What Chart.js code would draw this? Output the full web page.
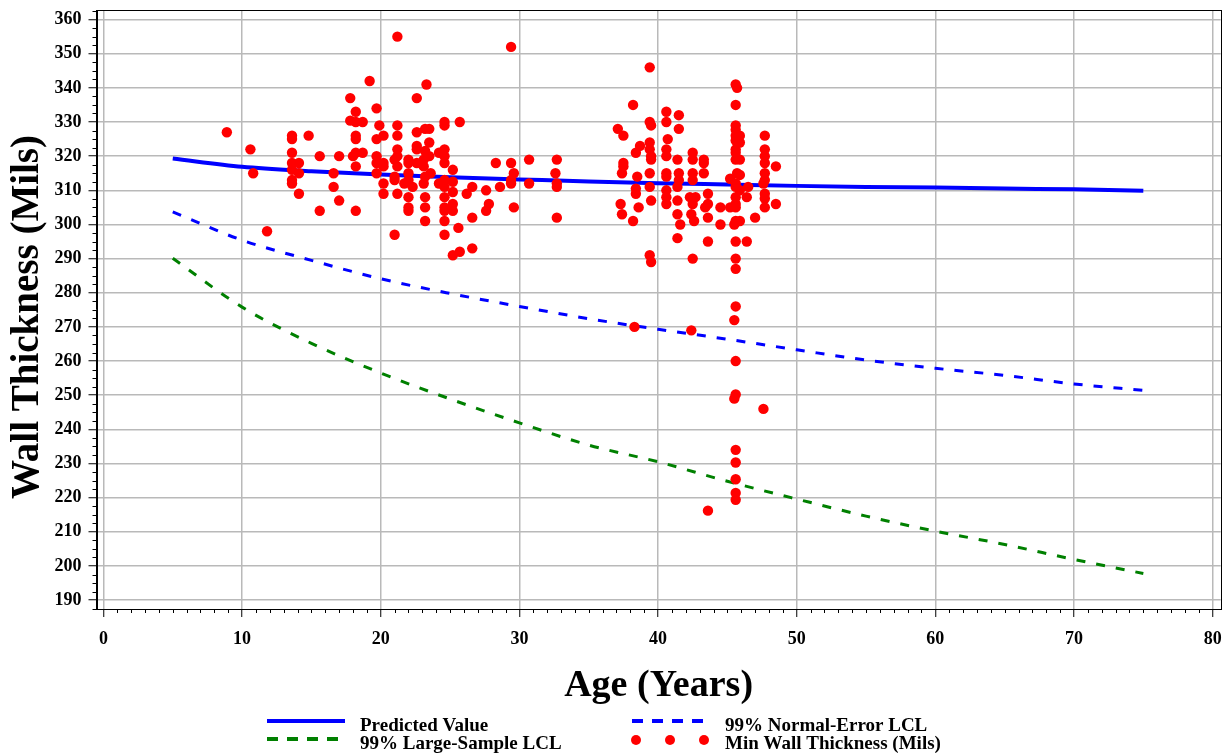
<!DOCTYPE html>
<html>
<head>
<meta charset="utf-8">
<title>Wall Thickness vs Age</title>
<script src="https://cdn.jsdelivr.net/npm/chart.js"></script>
<style>
    html, body { margin: 0; padding: 0; background: #fff; }
    canvas { display: block; }
</style>
</head>
<body>
<canvas id="wallChart" width="1231" height="755"></canvas>
<script>
const xTicks = [0, 10, 20, 30, 40, 50, 60, 70, 80];
const yTicks = [190, 200, 210, 220, 230, 240, 250, 260, 270, 280, 290, 300, 310, 320, 330, 340, 350, 360];

const xTitle = 'Age (Years)';
const yTitle = 'Wall Thickness (Mils)';
const seriesNames = ['Predicted Value', '99% Normal-Error LCL', '99% Large-Sample LCL', 'Min Wall Thickness (Mils)'];

// fitted curves, read at every 5 years
const fitAge    = [5, 10, 15, 20, 25, 30, 35, 40, 45, 50, 55, 60, 65, 70, 75];
const predicted = [319.3, 316.9, 315.6, 314.6, 313.8, 313.2, 312.6, 312.1, 311.7, 311.3, 311.0, 310.8, 310.5, 310.3, 309.9];
const normalLcl = [303.7, 295.4, 289.5, 284.1, 279.8, 276.0, 272.4, 269.3, 266.4, 263.3, 260.3, 257.9, 255.8, 253.3, 251.4];
const largeLcl  = [290.1, 275.8, 265.2, 256.5, 248.9, 241.9, 235.4, 230.5, 224.8, 219.6, 214.6, 210.2, 206.3, 201.9, 197.8];

// measured points
const scatterAge = [
    21.2, 8.9, 10.6, 10.8, 11.8, 13.6, 13.6, 13.6, 13.6, 14.1,
    13.6, 14.1, 13.6, 13.6, 14.1, 14.8, 15.6, 15.6, 16.6, 16.6,
    17.0, 17.0, 18.2, 19.2, 17.8, 18.2, 17.8, 18.2, 18.7, 18.2,
    18.2, 18.2, 18.7, 18.0, 18.2, 19.7, 19.9, 20.2, 19.7, 19.7,
    19.7, 20.2, 20.2, 19.7, 20.2, 20.2, 21.2, 21.2, 21.2, 21.2,
    21.0, 21.0, 21.0, 21.2, 21.2, 21.0,
    29.4, 23.3, 22.6, 24.6, 24.6, 25.7, 22.6, 23.2, 23.5, 23.5,
    22.6, 22.6, 23.2, 24.6, 24.2, 24.6, 22.0, 22.0, 22.6, 23.1,
    23.5, 23.1, 23.6, 23.2, 24.6, 25.2, 22.0, 22.0, 21.7, 22.3,
    23.1, 24.2, 24.6, 24.6, 25.2, 25.2, 22.0, 23.2, 23.2, 22.0,
    22.0, 24.6, 24.6, 25.2, 25.2, 24.6, 23.2, 24.6, 24.6, 25.6,
    25.2, 25.7, 26.6, 26.6, 26.2, 26.6, 27.6, 27.8, 27.6, 28.6,
    28.3, 29.4, 29.6, 29.4, 29.4, 29.6, 30.7, 30.7, 32.7, 32.6,
    32.7, 32.7, 32.7,
    39.4, 38.2, 37.1, 37.5, 39.4, 39.5, 40.6, 40.6, 41.5, 41.5,
    40.7, 38.7, 38.4, 39.4, 39.4, 39.5, 39.5, 40.6, 40.6, 37.5,
    37.5, 37.4, 38.5, 39.4, 39.4, 39.5, 38.4, 38.4, 40.6, 40.6,
    40.6, 40.6, 40.6, 41.4, 41.5, 41.5, 41.4, 41.4, 41.4, 41.6,
    41.4, 37.3, 37.4, 38.2, 38.6, 39.4, 39.5, 42.5, 42.5, 42.5,
    42.5, 42.3, 42.7, 42.5, 42.4, 42.6, 42.5, 43.3, 43.3, 43.3,
    43.6, 43.6, 43.4, 43.6, 43.6, 44.5, 44.5, 45.6, 45.7, 45.6,
    45.6, 45.6, 45.6, 45.9, 45.6, 45.9, 45.6, 45.6, 45.6, 45.9,
    45.2, 45.7, 45.9, 45.6, 45.6, 45.9, 45.6, 45.6, 45.6, 46.4,
    46.5, 45.2, 45.6, 45.9, 45.5, 45.6, 46.4, 45.6, 45.6, 47.0,
    47.7, 47.7, 47.7, 47.7, 47.7, 47.7, 47.6, 47.7, 47.7, 47.7,
    48.5, 48.5,
    45.6, 45.5, 38.3, 42.4, 45.6, 45.6, 45.5, 47.6, 45.6, 45.6,
    45.6, 45.6, 45.6, 43.6
];
const scatterWall = [
    355, 327, 322, 315, 298, 326, 325, 321, 318, 318,
    316, 315, 313, 312, 309, 326, 320, 304, 315, 311,
    320, 307, 304, 342, 337, 333, 330.4, 330, 330, 326,
    325, 321, 321, 320, 317, 334, 329, 326, 325, 320,
    318, 318, 317, 315, 312, 309, 329, 326, 322, 320,
    319, 314, 313, 317, 309, 297,
    352, 341, 337, 330, 329, 330, 327, 328, 328, 324,
    323, 322, 321.5, 322, 321, 320, 319, 318, 318, 319,
    320, 317, 315, 314, 318, 316, 315, 313, 312, 311,
    312, 312, 313, 311, 312.5, 309.5, 308, 308, 305, 305,
    304, 308, 305, 306, 304, 304, 301, 301, 297, 299,
    291, 292, 293, 302, 309, 311, 310, 306, 304, 311,
    318, 318, 315, 313, 312, 305, 319, 312, 319, 315,
    312, 311, 302,
    346, 335, 328, 326, 330, 329, 333, 330, 332, 328,
    325, 323, 321, 324, 322, 320, 319, 322, 320, 318,
    317, 315, 314, 315, 311, 307, 310.5, 309, 315, 314,
    310, 308, 306, 319, 315, 313, 311, 307, 303, 300,
    296, 306, 303, 301, 305, 291, 289, 321, 319, 315,
    313, 308, 308, 306, 303, 301, 290, 319, 318, 315,
    309, 306, 305, 302, 295, 305, 300, 341, 340, 335,
    329, 327.7, 326, 326, 324.6, 324, 322, 321, 319, 319,
    313.4, 315, 314.5, 312, 311, 310, 308, 306, 305, 308,
    311, 305, 301, 301, 300, 295, 295, 290, 287, 302,
    326, 322, 320, 318, 315, 313, 312, 309, 307.6, 305,
    317, 306,
    276, 272, 270, 269, 260, 250.2, 249, 246, 234, 230.3,
    225.4, 221.4, 219.4, 216.2
];

const serif = "'Liberation Serif', 'Times New Roman', serif";
const blue = '#0000ff';
const green = '#008000';
const red = '#ff0000';

function toPoints(xs, ys) {
    return xs.map((x, i) => ({ x: x, y: ys[i] }));
}

// minor ticks, full frame, y title and the two-column legend
const extrasPlugin = {
    id: 'extras',
    afterDraw(chart) {
        const ctx = chart.ctx;
        const a = chart.chartArea;
        const xs = chart.scales.x;
        const ys = chart.scales.y;
        ctx.save();
        ctx.strokeStyle = '#000';
        ctx.lineWidth = 1;
        ctx.beginPath();
        for (let v = 1; v < 80; v++) {
            if (v % 10 === 0) continue;
            const px = Math.round(xs.getPixelForValue(v)) + 0.5;
            ctx.moveTo(px, a.bottom);
            ctx.lineTo(px, a.bottom + 4);
        }
        for (let v = 187.5; v <= 362.5; v += 2.5) {
            if (v % 10 === 0) continue;
            const py = Math.round(ys.getPixelForValue(v)) + 0.5;
            ctx.moveTo(a.left - 4, py);
            ctx.lineTo(a.left, py);
        }
        ctx.stroke();
        ctx.strokeRect(Math.round(a.left) + 0.5, Math.round(a.top) + 0.5,
                       Math.round(a.right - a.left), Math.round(a.bottom - a.top));

        // y axis title, a little below the plot centre as in the original
        ctx.save();
        ctx.translate(28, 317);
        ctx.rotate(-Math.PI / 2);
        ctx.font = 'bold 39px ' + serif;
        ctx.fillStyle = '#000';
        ctx.textAlign = 'center';
        ctx.textBaseline = 'middle';
        ctx.fillText(yTitle, 0, 0);
        ctx.restore();

        // legend
        ctx.font = 'bold 19px ' + serif;
        ctx.fillStyle = '#000';
        ctx.textBaseline = 'alphabetic';
        ctx.textAlign = 'left';

        ctx.lineWidth = 4;
        ctx.strokeStyle = blue;
        ctx.setLineDash([]);
        ctx.beginPath(); ctx.moveTo(267, 721); ctx.lineTo(345, 721); ctx.stroke();
        ctx.fillText(seriesNames[0], 360, 731);

        ctx.setLineDash([11, 9]);
        ctx.beginPath(); ctx.moveTo(632, 721); ctx.lineTo(710, 721); ctx.stroke();
        ctx.fillText(seriesNames[1], 725, 731);

        ctx.strokeStyle = green;
        ctx.beginPath(); ctx.moveTo(267, 739); ctx.lineTo(345, 739); ctx.stroke();
        ctx.fillText(seriesNames[2], 360, 749);

        ctx.setLineDash([]);
        ctx.fillStyle = red;
        [636, 670, 704].forEach(cx => {
            ctx.beginPath(); ctx.arc(cx, 740, 5, 0, Math.PI * 2); ctx.fill();
        });
        ctx.fillStyle = '#000';
        ctx.fillText(seriesNames[3], 725, 749);
        ctx.restore();
    }
};

const tickFont = { family: serif, size: 18, weight: 'bold' };
const gridOpts = { color: '#b9b9b9', lineWidth: 1.5, tickColor: '#000', tickLength: 8, tickWidth: 1 };

new Chart(document.getElementById('wallChart'), {
    type: 'scatter',
    data: {
        datasets: [
            {
                label: seriesNames[3],
                data: toPoints(scatterAge, scatterWall),
                backgroundColor: red,
                borderWidth: 0,
                pointRadius: 5.2,
                order: 0
            },
            {
                label: seriesNames[0],
                data: toPoints(fitAge, predicted),
                showLine: true,
                borderColor: blue,
                borderWidth: 4,
                pointRadius: 0,
                cubicInterpolationMode: 'monotone',
                order: 1
            },
            {
                label: seriesNames[1],
                data: toPoints(fitAge, normalLcl),
                showLine: true,
                borderColor: blue,
                borderWidth: 3,
                borderDash: [9, 11],
                pointRadius: 0,
                cubicInterpolationMode: 'monotone',
                order: 1
            },
            {
                label: seriesNames[2],
                data: toPoints(fitAge, largeLcl),
                showLine: true,
                borderColor: green,
                borderWidth: 3,
                borderDash: [9, 11],
                pointRadius: 0,
                cubicInterpolationMode: 'monotone',
                order: 1
            }
        ]
    },
    options: {
        responsive: false,
        animation: false,
        devicePixelRatio: 1,
        layout: { padding: { left: 0, right: 10.3, top: 10, bottom: 40 } },
        plugins: {
            legend: { display: false },
            tooltip: { enabled: false }
        },
        scales: {
            x: {
                type: 'linear',
                min: -0.5,
                max: 80.58,
                afterBuildTicks: s => { s.ticks = xTicks.map(v => ({ value: v })); },
                afterFit: s => { s.height = 106; s.paddingLeft = 0; s.paddingRight = 0; },
                grid: gridOpts,
                border: { color: '#000', width: 1 },
                ticks: { font: tickFont, color: '#000', padding: 12, maxRotation: 0, autoSkip: false },
                title: {
                    display: true,
                    text: xTitle,
                    color: '#000',
                    font: { family: serif, size: 38, weight: 'bold', lineHeight: 1.2 },
                    padding: { top: 0, bottom: 6 }
                }
            },
            y: {
                min: 187.4,
                max: 362.8,
                afterBuildTicks: s => { s.ticks = yTicks.map(v => ({ value: v })); },
                afterFit: s => { s.width = 96.5; s.paddingTop = 0; s.paddingBottom = 0; },
                grid: gridOpts,
                border: { color: '#000', width: 1 },
                ticks: { font: tickFont, color: '#000', padding: 7, autoSkip: false },
                title: { display: false }
            }
        }
    },
    plugins: [extrasPlugin]
});
</script>
</body>
</html>
